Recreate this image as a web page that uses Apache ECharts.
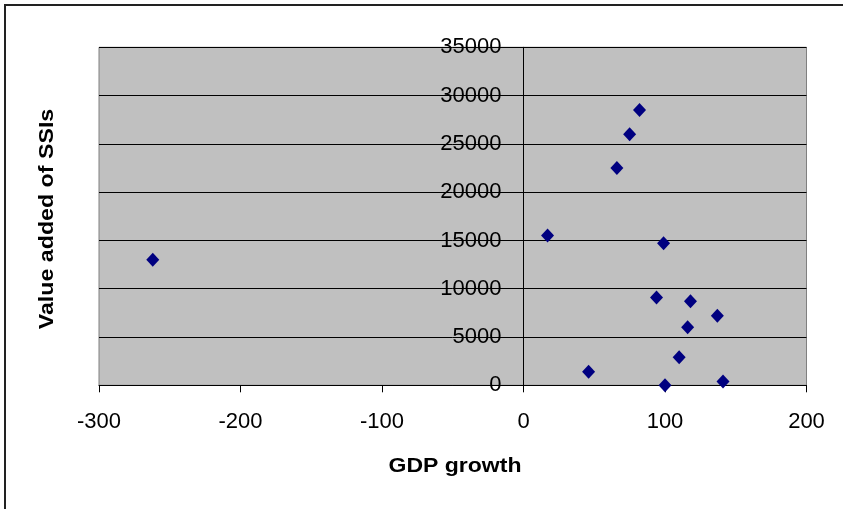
<!DOCTYPE html>
<html>
<head>
<meta charset="utf-8">
<script src="https://cdn.jsdelivr.net/npm/echarts@6/dist/echarts.min.js"></script>
<style>
  html, body { margin: 0; padding: 0; background: #fff; }
  #chart { width: 843px; height: 509px; }
</style>
</head>
<body>
<div id="chart"></div>
<script>
// GDP growth (x) against value added of SSIs (y)
const gdpGrowth = [-262, 17, 99, 94, 118, 137, 116, 110, 46, 100, 141, 82, 75, 66];
const valueAdded = [13000, 15500, 14700, 9100, 8700, 7200, 6000, 2900, 1400, 0, 400, 28500, 26000, 22500];

const xTicks = { min: -300, max: 200, interval: 100 };
const yTicks = { min: 0, max: 35000, interval: 5000 };

const points = gdpGrowth.map((g, i) => [g, valueAdded[i]]);

const FONT = '"Liberation Sans", Arial, sans-serif';
const GRID = { left: 99, right: 36.5, top: 47.3, bottom: 123.7 };
const PLOT_W = 843 - GRID.left - GRID.right;

// the value axis sits on x = 0, so shift it right by that distance from the grid edge
const yAxisShift = PLOT_W * (0 - xTicks.min) / (xTicks.max - xTicks.min);

const chart = echarts.init(document.getElementById('chart'), null, { renderer: 'canvas' });

chart.setOption({
  animation: false,
  backgroundColor: '#ffffff',
  grid: {
    left: GRID.left, right: GRID.right, top: GRID.top, bottom: GRID.bottom,
    show: true,
    backgroundColor: '#c0c0c0',
    borderColor: '#808080',
    borderWidth: 1,
    containLabel: false
  },
  xAxis: {
    type: 'value',
    min: xTicks.min, max: xTicks.max, interval: xTicks.interval,
    axisLine: { show: true, onZero: false, lineStyle: { color: '#000', width: 1 } },
    axisTick: { show: true, inside: false, length: 7, lineStyle: { color: '#000' } },
    axisLabel: { color: '#000', fontSize: 22, fontFamily: FONT, margin: 26, formatter: v => String(v) },
    splitLine: { show: false }
  },
  yAxis: {
    type: 'value',
    position: 'left',
    offset: -yAxisShift,
    min: yTicks.min, max: yTicks.max, interval: yTicks.interval,
    axisLine: { show: true, onZero: false, lineStyle: { color: '#000', width: 1 } },
    axisTick: { show: true, inside: false, length: 7, lineStyle: { color: '#000' } },
    axisLabel: { color: '#000', fontSize: 22, fontFamily: FONT, margin: 22, formatter: v => String(v) },
    splitLine: { show: true, lineStyle: { color: '#000', width: 1 } }
  },
  series: [{
    type: 'scatter',
    data: points,
    symbol: 'diamond',
    symbolSize: [13, 14],
    itemStyle: { color: '#000080', opacity: 1 }
  }],
  graphic: [
    {
      type: 'rect',
      shape: { x: 5, y: 5, width: 860, height: 530 },
      style: { fill: 'none', stroke: '#222', lineWidth: 2 },
      z: -1
    },
    {
      type: 'text',
      x: 455, y: 466,
      scaleX: 1.15,
      style: {
        text: 'GDP growth',
        fill: '#000',
        font: 'bold 20px ' + FONT,
        align: 'center',
        verticalAlign: 'middle'
      }
    },
    {
      type: 'text',
      x: 47, y: 219,
      rotation: Math.PI / 2,
      scaleX: 1.16,
      style: {
        text: 'Value added of SSIs',
        fill: '#000',
        font: 'bold 20px ' + FONT,
        align: 'center',
        verticalAlign: 'middle'
      }
    }
  ]
});
</script>
</body>
</html>
